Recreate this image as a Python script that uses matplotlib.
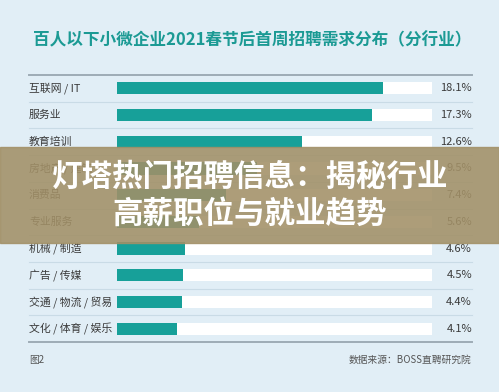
import matplotlib.pyplot as plt
from matplotlib.patches import Rectangle
import matplotlib.transforms as mtransforms

plt.rcParams['font.family'] = ['Noto Sans CJK SC', 'DejaVu Sans']

categories = ['互联网 / IT', '服务业', '教育培训', '房地产 / 建筑', '消费品', '专业服务',
              '机械 / 制造', '广告 / 传媒', '交通 / 物流 / 贸易', '文化 / 体育 / 娱乐']
shares = [18.1, 17.3, 12.6, 9.5, 7.4, 5.6, 4.6, 4.5, 4.4, 4.1]
track_max = 21.4

W, H = 499, 392
bg = '#e1eef6'
teal = '#17a099'

fig = plt.figure(figsize=(W / 100, H / 100), dpi=100, facecolor=bg)

# bar area in pixel coordinates
x0, x1 = 117, 432
y_top, y_bot = 75, 342
ax = fig.add_axes([x0 / W, 1 - y_bot / H, (x1 - x0) / W, (y_bot - y_top) / H])
ax.set_facecolor('none')
n = len(categories)
pos = list(range(n))
ax.barh(pos, [track_max] * n, height=0.46, color='white', zorder=1)
ax.barh(pos, shares, height=0.46, color=teal, zorder=2)
ax.set_xlim(0, track_max)
ax.set_ylim(n - 0.5, -0.5)
ax.axis('off')

lx = (29 - x0) / (x1 - x0)
rx = (472 - x0) / (x1 - x0)
trans = mtransforms.blended_transform_factory(ax.transAxes, ax.transData)
for i, (cat, v) in enumerate(zip(categories, shares)):
    ax.text(lx, i, cat, transform=trans, ha='left', va='center', fontsize=7.8,
            color='#3a3a3a', clip_on=False)
    ax.text(rx, i, f'{v}%', transform=trans, ha='right', va='center', fontsize=8,
            color='#3a3a3a', clip_on=False)
for i in range(1, n):
    ax.axhline(i - 0.5, lx, rx, color='#c9dbe6', lw=0.8, clip_on=False)
ax.axhline(-0.5, lx, rx, color='#9eacb6', lw=1.4, clip_on=False)
ax.axhline(n - 0.5, lx, rx, color='#9eacb6', lw=1.4, clip_on=False)

# decoration layer in pixels
deco = fig.add_axes([0, 0, 1, 1])
deco.set_xlim(0, W)
deco.set_ylim(H, 0)
deco.axis('off')
deco.set_facecolor('none')

deco.text(252, 40, '百人以下小微企业2021春节后首周招聘需求分布（分行业）', ha='center',
          va='center', fontsize=12, color='#1b9a94', fontweight='bold')
deco.text(29, 360, '图2', ha='left', va='center', fontsize=7, color='#555555')
deco.text(471, 360, '数据来源：BOSS直聘研究院', ha='right', va='center', fontsize=7,
          color='#555555')

# overlay banner
deco.add_patch(Rectangle((0, 147), W, 96, color='#a29067', alpha=0.88, zorder=5))
deco.text(250, 177, '灯塔热门招聘信息：揭秘行业', ha='center', va='center', fontsize=22,
          color='white', fontweight='heavy', zorder=6)
deco.text(250, 215, '高薪职位与就业趋势', ha='center', va='center', fontsize=22,
          color='white', fontweight='heavy', zorder=6)

fig.savefig('out.png', dpi=100, facecolor=bg)
